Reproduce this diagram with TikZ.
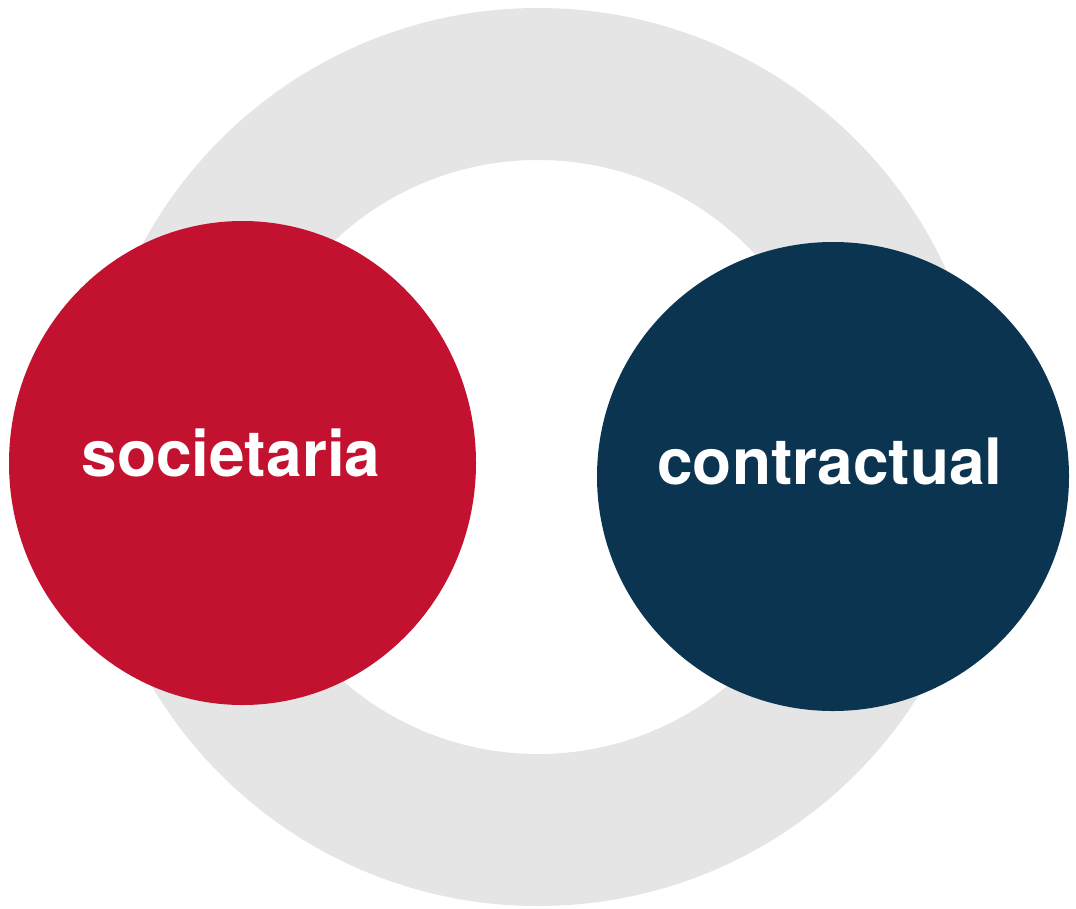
\documentclass[tikz,border=0pt]{standalone}
\usepackage{fontspec}
\setmainfont{TeX Gyre Heros}
\definecolor{ringgray}{RGB}{229,229,229}
\definecolor{socred}{RGB}{195,18,48}
\definecolor{connavy}{RGB}{10,52,80}
\begin{document}
\begin{tikzpicture}[x=1pt,y=-1pt,
  lbl/.style={text=white,font=\fontsize{64}{70}\selectfont\bfseries,anchor=base,inner sep=0pt}]
\useasboundingbox (0,0) rectangle (1076,908);
\fill[ringgray,even odd rule] (538,457) circle (449) (538,457) circle (297);
\fill[socred] (242.5,463) ellipse [x radius=233.5, y radius=242];
\fill[connavy] (833,476.5) ellipse [x radius=236, y radius=234.5];
\node[lbl] (soc) at (231,476) {societaria};
\node[lbl] (con) at (830,484) {contractual};
\end{tikzpicture}
\end{document}
